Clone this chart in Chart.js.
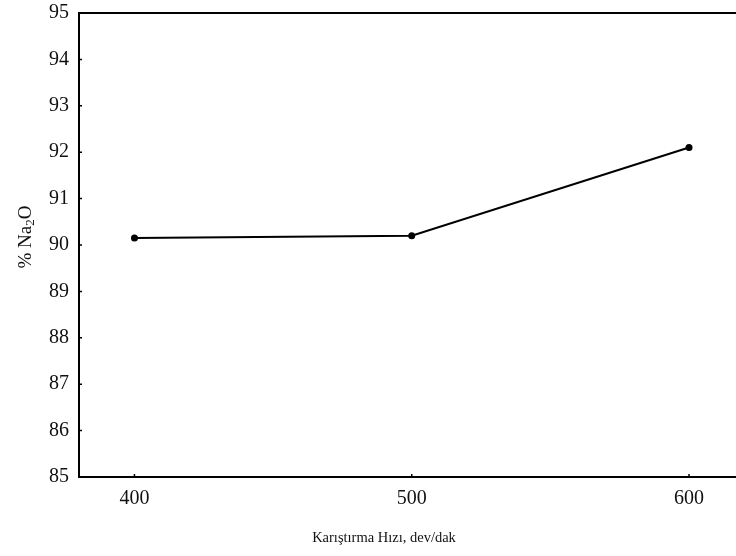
<!DOCTYPE html>
<html>
<head>
<meta charset="utf-8">
<script src="https://cdn.jsdelivr.net/npm/chart.js@4/dist/chart.umd.min.js"></script>
<style>
  html, body { margin: 0; padding: 0; background: #fff; overflow: hidden; }
  #wrap { width: 736px; height: 556px; }
</style>
</head>
<body>
<div id="wrap"><canvas id="c" width="736" height="556"></canvas></div>
<script>
// Stirring speed (rpm) and Na2O recovery (%)
const speeds = [400, 500, 600];
const na2oPercent = [90.15, 90.2, 92.1];
const xTicks = [400, 500, 600];
const yTicks = [85, 86, 87, 88, 89, 90, 91, 92, 93, 94, 95];

const FONT = '"Liberation Serif", "Times New Roman", serif';

// Frame, inward tick marks and axis titles
const framePlugin = {
  id: 'frame',
  afterDraw(chart) {
    const { ctx, chartArea: a, scales } = chart;
    const right = chart.width;
    ctx.save();
    ctx.strokeStyle = '#000';
    ctx.lineWidth = 2;
    ctx.beginPath();
    ctx.moveTo(a.left, a.top);
    ctx.lineTo(right, a.top);
    ctx.moveTo(a.left, a.top - 1);
    ctx.lineTo(a.left, a.bottom + 1);
    ctx.moveTo(a.left - 1, a.bottom);
    ctx.lineTo(right, a.bottom);
    ctx.stroke();

    ctx.lineWidth = 1.5;
    ctx.beginPath();
    yTicks.forEach(v => {
      const y = scales.y.getPixelForValue(v);
      ctx.moveTo(a.left, y);
      ctx.lineTo(a.left + 3, y);
    });
    xTicks.forEach(v => {
      const x = scales.x.getPixelForValue(v);
      ctx.moveTo(x, a.bottom);
      ctx.lineTo(x, a.bottom - 3);
    });
    ctx.stroke();

    ctx.fillStyle = '#111';
    ctx.textBaseline = 'middle';
    ctx.textAlign = 'center';
    ctx.font = '14.5px ' + FONT;
    ctx.fillText('Karıştırma Hızı, dev/dak', 384, 538);

    // rotated y title with subscript
    ctx.translate(26, 237);
    ctx.rotate(-Math.PI / 2);
    const parts = [
      { t: '% Na', size: 19, dy: 0 },
      { t: '2', size: 13, dy: 5 },
      { t: 'O', size: 19, dy: 0 }
    ];
    let total = 0;
    parts.forEach(p => { ctx.font = p.size + 'px ' + FONT; total += ctx.measureText(p.t).width; });
    let x = -total / 2;
    ctx.textAlign = 'left';
    parts.forEach(p => {
      ctx.font = p.size + 'px ' + FONT;
      ctx.fillText(p.t, x, p.dy);
      x += ctx.measureText(p.t).width;
    });
    ctx.restore();
  }
};

new Chart(document.getElementById('c'), {
  type: 'line',
  data: {
    datasets: [{
      data: speeds.map((s, i) => ({ x: s, y: na2oPercent[i] })),
      borderColor: '#000',
      backgroundColor: '#000',
      borderWidth: 2,
      pointRadius: 3.5,
      pointBackgroundColor: '#000',
      pointBorderWidth: 0,
      tension: 0
    }]
  },
  options: {
    responsive: false,
    animation: false,
    events: [],
    layout: { padding: { top: 13, left: 0, right: 0, bottom: 0 } },
    plugins: { legend: { display: false }, tooltip: { enabled: false } },
    scales: {
      x: {
        type: 'linear',
        min: 380,
        max: 615.5,
        afterBuildTicks(s) { s.ticks = xTicks.map(v => ({ value: v })); },
        afterFit(s) { s.height = 79; s.paddingLeft = 0; s.paddingRight = 0; },
        grid: { display: false, drawTicks: false },
        border: { display: false },
        ticks: { padding: 10, color: '#111', font: { family: FONT, size: 20 } }
      },
      y: {
        min: 85,
        max: 95,
        afterBuildTicks(s) { s.ticks = yTicks.map(v => ({ value: v })); },
        afterFit(s) { s.width = 79; s.paddingTop = 0; s.paddingBottom = 0; },
        grid: { display: false, drawTicks: false },
        border: { display: false },
        ticks: { padding: 10, color: '#111', font: { family: FONT, size: 20 } }
      }
    }
  },
  plugins: [framePlugin]
});
</script>
</body>
</html>
